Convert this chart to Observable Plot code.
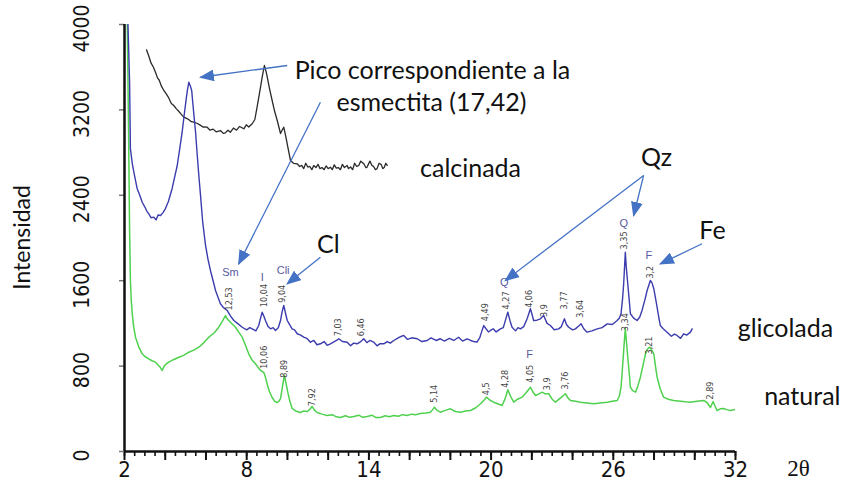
<!DOCTYPE html>
<html><head><meta charset="utf-8">
<script src="https://cdn.jsdelivr.net/npm/d3@7"></script>
<script src="https://cdn.jsdelivr.net/npm/@observablehq/plot@0.6"></script>
<style>body{margin:0;background:#fff} svg{display:block}</style>
</head><body><div id="chart"></div>
<script>
// 2θ (degrees), intensity (counts)
const calcinada = [[3.08,3763],[3.2,3700],[3.3,3640],[3.42,3600],[3.52,3553],[3.62,3500],[3.7,3480],[3.82,3420],[3.93,3382],[4.05,3350],[4.15,3320],[4.3,3260],[4.42,3241],[4.55,3210],[4.65,3190],[4.78,3160],[4.91,3132],[5.05,3120],[5.15,3110],[5.28,3090],[5.40,3085],[5.55,3075],[5.7,3060],[5.85,3040],[6.06,3038],[6.2,3010],[6.35,3020],[6.5,2995],[6.71,3007],[6.85,2980],[6.95,2985],[7.08,3010],[7.20,2991],[7.35,3030],[7.5,3010],[7.65,3045],[7.86,3023],[7.98,3060],[8.1,3040],[8.27,3070],[8.4,3110],[8.51,3225],[8.65,3380],[8.76,3507],[8.87,3616],[8.95,3560],[9.01,3507],[9.12,3400],[9.25,3288],[9.38,3180],[9.50,3101],[9.58,3040],[9.66,2979],[9.74,3010],[9.82,3038],[9.92,2950],[10.02,2851],[10.15,2726],[10.3,2700],[10.48,2695],[10.6,2670],[10.7,2680],[10.8,2650],[10.9,2700],[11.0,2665],[11.1,2670],[11.2,2640],[11.29,2679],[11.4,2660],[11.5,2690],[11.6,2650],[11.7,2660],[11.8,2640],[11.9,2675],[12.0,2650],[12.11,2663],[12.2,2640],[12.3,2685],[12.4,2655],[12.5,2660],[12.6,2640],[12.7,2690],[12.8,2660],[12.93,2679],[13.0,2650],[13.1,2665],[13.2,2640],[13.3,2700],[13.4,2670],[13.5,2680],[13.6,2720],[13.75,2695],[13.85,2660],[13.9,2660],[14.05,2720],[14.15,2680],[14.23,2670],[14.32,2640],[14.4,2650],[14.5,2700],[14.6,2690],[14.68,2650],[14.75,2660],[14.83,2700],[14.90,2680]];

const glicolada = [[2.08,4600],[2.2,3800],[2.25,3460],[2.29,2838],[2.38,2700],[2.46,2617],[2.55,2530],[2.62,2464],[2.75,2400],[2.87,2335],[3.0,2290],[3.1,2250],[3.19,2227],[3.3,2190],[3.44,2195],[3.55,2170],[3.65,2215],[3.77,2211],[3.9,2240],[4.01,2276],[4.15,2340],[4.34,2464],[4.45,2560],[4.59,2679],[4.7,2820],[4.83,2991],[4.93,3150],[5.03,3304],[5.1,3400],[5.16,3460],[5.24,3419],[5.3,3380],[5.35,3272],[5.42,3130],[5.49,2991],[5.57,2780],[5.65,2586],[5.75,2360],[5.84,2148],[5.98,1930],[6.1,1800],[6.22,1696],[6.35,1600],[6.47,1508],[6.6,1440],[6.71,1384],[6.85,1350],[7.04,1321],[7.2,1270],[7.37,1227],[7.55,1200],[7.78,1164],[8.0,1140],[8.15,1160],[8.27,1149],[8.45,1130],[8.59,1180],[8.68,1250],[8.76,1305],[8.84,1270],[8.92,1227],[9.05,1170],[9.17,1149],[9.3,1160],[9.41,1134],[9.55,1160],[9.66,1227],[9.74,1310],[9.82,1368],[9.9,1300],[9.99,1227],[10.1,1190],[10.23,1149],[10.35,1140],[10.48,1103],[10.65,1090],[10.80,1071],[10.95,1060],[11.13,1024],[11.3,1040],[11.45,1000],[11.62,1009],[11.8,1030],[11.95,995],[12.11,1009],[12.3,1030],[12.45,1045],[12.52,1056],[12.7,1030],[12.93,1024],[13.1,990],[13.25,1015],[13.42,1009],[13.6,1030],[13.75,1056],[13.9,1020],[14.05,1040],[14.24,1024],[14.4,990],[14.55,1010],[14.73,1009],[14.9,1030],[15.05,1015],[15.22,1040],[15.4,1060],[15.55,1075],[15.71,1087],[15.9,1050],[16.1,1065],[16.37,1056],[16.6,1030],[16.86,1040],[17.05,1065],[17.3,1040],[17.51,1056],[17.7,1035],[17.95,1060],[18.17,1040],[18.4,1070],[18.6,1035],[18.82,1056],[19.0,1040],[19.15,1030],[19.31,1024],[19.45,1070],[19.55,1130],[19.64,1180],[19.75,1150],[19.87,1120],[19.97,1134],[20.1,1150],[20.25,1120],[20.46,1149],[20.6,1160],[20.72,1240],[20.82,1305],[20.92,1230],[21.03,1164],[21.2,1130],[21.32,1160],[21.44,1149],[21.6,1170],[21.77,1243],[21.93,1337],[22.0,1290],[22.09,1227],[22.25,1230],[22.42,1243],[22.58,1274],[22.75,1200],[22.91,1180],[23.1,1140],[23.32,1149],[23.45,1170],[23.60,1243],[23.7,1190],[23.81,1164],[24.0,1140],[24.14,1149],[24.3,1175],[24.42,1196],[24.55,1150],[24.71,1118],[24.95,1130],[25.21,1149],[25.45,1160],[25.70,1196],[25.95,1190],[26.19,1227],[26.3,1250],[26.38,1290],[26.45,1420],[26.51,1571],[26.55,1720],[26.59,1867],[26.64,1720],[26.71,1571],[26.78,1420],[26.84,1290],[27.0,1250],[27.17,1227],[27.3,1260],[27.41,1321],[27.55,1420],[27.66,1508],[27.82,1602],[27.9,1580],[27.99,1524],[28.07,1440],[28.15,1352],[28.23,1260],[28.31,1180],[28.45,1150],[28.64,1118],[28.85,1080],[29.0,1100],[29.13,1087],[29.3,1060],[29.46,1103],[29.6,1090],[29.79,1118],[29.87,1149]];

const natural = [[2.1,4600],[2.2,3000],[2.25,2070],[2.29,1602],[2.33,1420],[2.38,1290],[2.45,1170],[2.54,1071],[2.7,980],[2.87,915],[3.0,890],[3.19,868],[3.35,850],[3.52,837],[3.65,810],[3.75,790],[3.85,759],[3.95,800],[4.05,820],[4.17,837],[4.4,860],[4.67,883],[4.9,900],[5.16,930],[5.4,950],[5.65,977],[5.9,1020],[6.14,1071],[6.4,1110],[6.63,1164],[6.8,1220],[6.96,1274],[7.04,1243],[7.2,1210],[7.45,1164],[7.6,1120],[7.78,1071],[7.95,990],[8.10,915],[8.25,860],[8.43,822],[8.55,790],[8.68,759],[8.84,740],[8.93,690],[9.01,628],[9.12,560],[9.25,506],[9.38,470],[9.50,459],[9.58,470],[9.66,496],[9.75,600],[9.85,712],[9.93,640],[10.02,553],[10.12,470],[10.23,403],[10.4,380],[10.64,365],[10.8,380],[10.97,375],[11.1,395],[11.21,422],[11.32,390],[11.46,365],[11.7,350],[11.95,337],[12.2,345],[12.4,325],[12.60,319],[12.85,335],[13.05,320],[13.26,328],[13.5,340],[13.7,320],[13.91,328],[14.15,340],[14.35,318],[14.57,319],[14.8,335],[15.0,325],[15.22,337],[15.45,330],[15.65,345],[15.88,337],[16.1,350],[16.3,345],[16.53,356],[16.8,360],[17.02,368],[17.12,390],[17.22,415],[17.35,385],[17.51,368],[17.75,385],[18.0,400],[18.25,375],[18.50,368],[18.75,380],[18.99,384],[19.25,410],[19.48,447],[19.65,480],[19.77,509],[19.95,480],[20.13,462],[20.35,445],[20.54,431],[20.7,500],[20.82,578],[20.95,520],[21.11,462],[21.3,490],[21.52,509],[21.72,550],[21.93,602],[22.05,560],[22.18,525],[22.35,540],[22.51,556],[22.65,540],[22.83,541],[23.0,490],[23.16,462],[23.4,500],[23.65,541],[23.78,500],[23.90,478],[24.15,470],[24.39,462],[24.7,455],[25.04,447],[25.35,455],[25.70,462],[25.95,470],[26.19,478],[26.3,520],[26.38,602],[26.45,780],[26.51,946],[26.55,1050],[26.59,1149],[26.65,1020],[26.71,883],[26.78,740],[26.84,602],[26.95,570],[27.09,556],[27.2,610],[27.33,696],[27.45,800],[27.58,915],[27.68,960],[27.79,977],[27.89,950],[27.99,915],[28.07,800],[28.15,696],[28.3,590],[28.47,509],[28.7,490],[28.96,478],[29.3,470],[29.55,465],[29.79,462],[30.1,470],[30.44,478],[30.6,459],[30.77,412],[30.9,468],[31.09,384],[31.25,400],[31.42,403],[31.6,390],[31.75,384],[31.99,393]];

// d-spacing labels over peaks: [text, 2θ, intensity]
const glicoladaPeaks = [["12,53",7.12,1430],["10,04",8.84,1461],["9,04",9.74,1477],["7,03",12.47,1164],["6,46",13.62,1164],["4,49",19.72,1305],["4,27",20.74,1415],["4,06",21.85,1430],["3,9",22.59,1321],["3,77",23.60,1415],["3,64",24.35,1337],["3,35",26.55,1977],["3,2",27.79,1680]];
const naturalPeaks = [["10,06",8.84,883],["8,89",9.82,775],["7,92",11.21,509],["5,14",17.18,541],["4,5",19.77,587],["4,28",20.70,681],["4,05",21.93,728],["3,9",22.75,634],["3,76",23.65,665],["3,34",26.60,1211],["3,21",27.74,993],["2,89",30.77,571]];
const minerals = [["Sm",7.20,1677],["I",8.76,1633],["Cli",9.79,1696],["Q",20.65,1586],["Q",26.51,2133],["F",27.74,1836],["F",21.89,909]];

// annotations: [text, 2θ, intensity]
const notes = [["Pico correspondiente a la",17.12,3569],["esmectita (17,42)",17.07,3260],["calcinada",18.99,2651],["Qz",28.12,2754],["Cl",12.01,1930],["Fe",30.87,2070],["glicolada",34.45,1152],["natural",35.28,515]];
// arrows: [x1, y1, x2, y2]
const arrows = [[9.99,3616,5.73,3506],[11.62,3272,7.61,1758],[11.62,1820,9.99,1571],[27.49,2586,27.0,2211],[27.49,2586,20.70,1602],[30.36,1946,28.31,1758]];

const yTicks = [0,800,1600,2400,3200,4000];
const xLabels = [2,8,14,20,26,32];
const xMajor = d3.range(2,33,2);
const xMinor = d3.range(2,32.01,0.5);

const W = 842, H = 494, ML = 124, MR = 107, MT = 24, MB = 43;
const yPerPx = 4000 / (H - MT - MB);   // intensity units per pixel
const xPerPx = 30 / (W - ML - MR);     // 2θ units per pixel

const rows = a => a.map(([x,y]) => ({x,y}));
const pk = a => a.map(([t,x,y]) => ({t,x,y}));
const narrow = "'Liberation Sans Narrow','Arial Narrow','DejaVu Sans Condensed',sans-serif";
const annoFont = "Lato, 'Open Sans', sans-serif";

const chart = Plot.plot({
  width: W, height: H,
  marginLeft: ML, marginRight: MR, marginTop: MT, marginBottom: MB,
  x: {domain: [2,32], axis: null},
  y: {domain: [0,4000], axis: null},
  style: {background: "white"},
  marks: [
    Plot.line(rows(calcinada), {x:"x", y:"y", stroke:"#2a2a2a", strokeWidth:1.3, clip:true}),
    Plot.line(rows(natural), {x:"x", y:"y", stroke:"#4fd14f", strokeWidth:1.5, clip:true}),
    Plot.line(rows(glicolada), {x:"x", y:"y", stroke:"#3c3cae", strokeWidth:1.4, clip:true}),
    // tick marks
    Plot.ruleX(xMinor, {x:d=>d, y1:0, y2:-5*yPerPx, stroke:"#111", strokeWidth:1.6}),
    Plot.ruleX(xMajor, {x:d=>d, y1:0, y2:-9*yPerPx, stroke:"#111", strokeWidth:2}),
    Plot.ruleY(yTicks, {y:d=>d, x1:2, x2:2 - 5*xPerPx, stroke:"#777", strokeWidth:1.5}),
    // axis lines
    Plot.ruleX([2], {y1:0, y2:4000, stroke:"#111", strokeWidth:2.5}),
    Plot.ruleY([0], {x1:2, x2:32, stroke:"#111", strokeWidth:2.5}),
    // tick labels
    Plot.text(xLabels, {x:d=>d, y:0, text:d=>String(d), dy:10, lineAnchor:"top", fontSize:22, fontFamily:narrow, fill:"#111"}),
    Plot.text(yTicks, {x:2, y:d=>d, text:d=>String(d), rotate:-90, dx:-36, dy:4, textAnchor:"middle", lineAnchor:"bottom", fontSize:21, fontFamily:narrow, fill:"#111"}),
    // peak labels
    Plot.text(pk(glicoladaPeaks), {x:"x", y:"y", text:"t", rotate:-90, textAnchor:"middle", lineAnchor:"middle", fontSize:9, fontFamily:narrow, fill:"#444"}),
    Plot.text(pk(naturalPeaks), {x:"x", y:"y", text:"t", rotate:-90, textAnchor:"middle", lineAnchor:"middle", fontSize:9, fontFamily:narrow, fill:"#444"}),
    Plot.text(pk(minerals), {x:"x", y:"y", text:"t", textAnchor:"middle", lineAnchor:"middle", fontSize:11, fontFamily:"sans-serif", fill:"#5a5a9e"}),
    // annotations
    Plot.link(arrows, {x1:d=>d[0], y1:d=>d[1], x2:d=>d[2], y2:d=>d[3], stroke:"#4472C4", strokeWidth:1.3}),
    Plot.text(pk(notes), {x:"x", y:"y", text:"t", textAnchor:"middle", lineAnchor:"middle", fontSize:25, fontFamily:annoFont, fill:"#111"}),
    Plot.text(["Intensidad"], {x:-3.01, y:2005, text:d=>d, rotate:-90, textAnchor:"middle", lineAnchor:"middle", fontSize:23, fontFamily:annoFont, fill:"#111"}),
    Plot.text(["2θ"], {x:35.09, y:-159, text:d=>d, textAnchor:"middle", lineAnchor:"middle", fontSize:23, fontFamily:"'Liberation Serif', serif", fill:"#111"})
  ]
});

const svg = d3.select(chart);
const defs = svg.insert("defs", ":first-child");
defs.append("marker").attr("id","tri").attr("viewBox","0 0 10 10").attr("preserveAspectRatio","none")
  .attr("refX",9).attr("refY",5).attr("markerWidth",15).attr("markerHeight",12)
  .attr("markerUnits","userSpaceOnUse").attr("orient","auto")
  .append("path").attr("d","M0,0L10,5L0,10Z").attr("fill","#4472C4");
svg.selectAll('g[aria-label="link"] path').attr("marker-end","url(#tri)");
document.getElementById("chart").append(chart);
</script>
</body></html>
